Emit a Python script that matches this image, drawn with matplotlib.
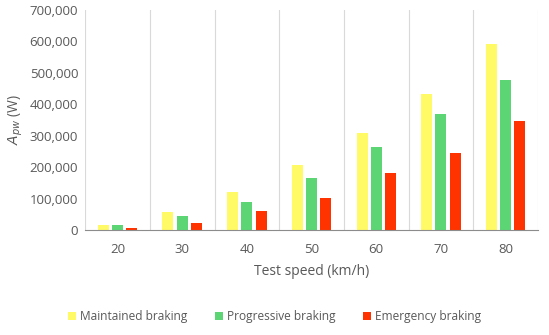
import numpy as np
import matplotlib
matplotlib.use("Agg")
import matplotlib.pyplot as plt
from matplotlib.ticker import FuncFormatter

plt.rcParams.update({"font.family": ["Open Sans", "DejaVu Sans"], "font.size": 9.5,
                     "text.color": "#595959", "axes.labelcolor": "#595959",
                     "xtick.color": "#595959", "ytick.color": "#595959",
                     "mathtext.fontset": "dejavusans"})

speeds = ["20", "30", "40", "50", "60", "70", "80"]
maintained = [17000, 58000, 122000, 206000, 310000, 434000, 591000]
progressive = [17000, 45000, 90000, 166000, 265000, 368000, 476000]
emergency = [6000, 23000, 60000, 102000, 183000, 246000, 348000]

YEL, GRN, RED = "#FFFA66", "#5CD675", "#FF3300"

fig = plt.figure(figsize=(5.49, 3.35), dpi=100)
ax = fig.add_axes([0.155, 0.313, 0.825, 0.657])

x = np.arange(len(speeds))
w, step = 0.17, 0.22
ax.bar(x - step, maintained, w, color=YEL, label="Maintained braking")
ax.bar(x, progressive, w, color=GRN, label="Progressive braking")
ax.bar(x + step, emergency, w, color=RED, label="Emergency braking")

# vertical gridlines between categories (Excel style)
for b in np.arange(-0.5, len(speeds), 1.0):
    ax.axvline(b, color="#d9d9d9", lw=0.8, zorder=0)

ax.set_xlim(-0.5, len(speeds) - 0.5)
ax.set_ylim(0, 700000)
ax.set_yticks(np.arange(0, 700001, 100000))
ax.yaxis.set_major_formatter(FuncFormatter(lambda v, p: f"{int(v):,}"))
ax.set_xticks(x)
ax.set_xticklabels(speeds)
ax.tick_params(axis="x", length=0, pad=9)
ax.tick_params(axis="y", length=0, pad=5)
for s in ["top", "right", "left"]:
    ax.spines[s].set_visible(False)
ax.spines["bottom"].set_color("#8c8c8c")
ax.set_xlabel("Test speed (km/h)", fontsize=10, labelpad=6)
ax.set_ylabel(r"$A_{pw}$ (W)", fontsize=10, labelpad=3)

fig.legend(loc="center", bbox_to_anchor=(0.5, 0.055), ncol=3, frameon=False,
           fontsize=8.6, handlelength=0.7, handleheight=0.7, handletextpad=0.3,
           columnspacing=2.3)
fig.savefig("out.png", dpi=100)
